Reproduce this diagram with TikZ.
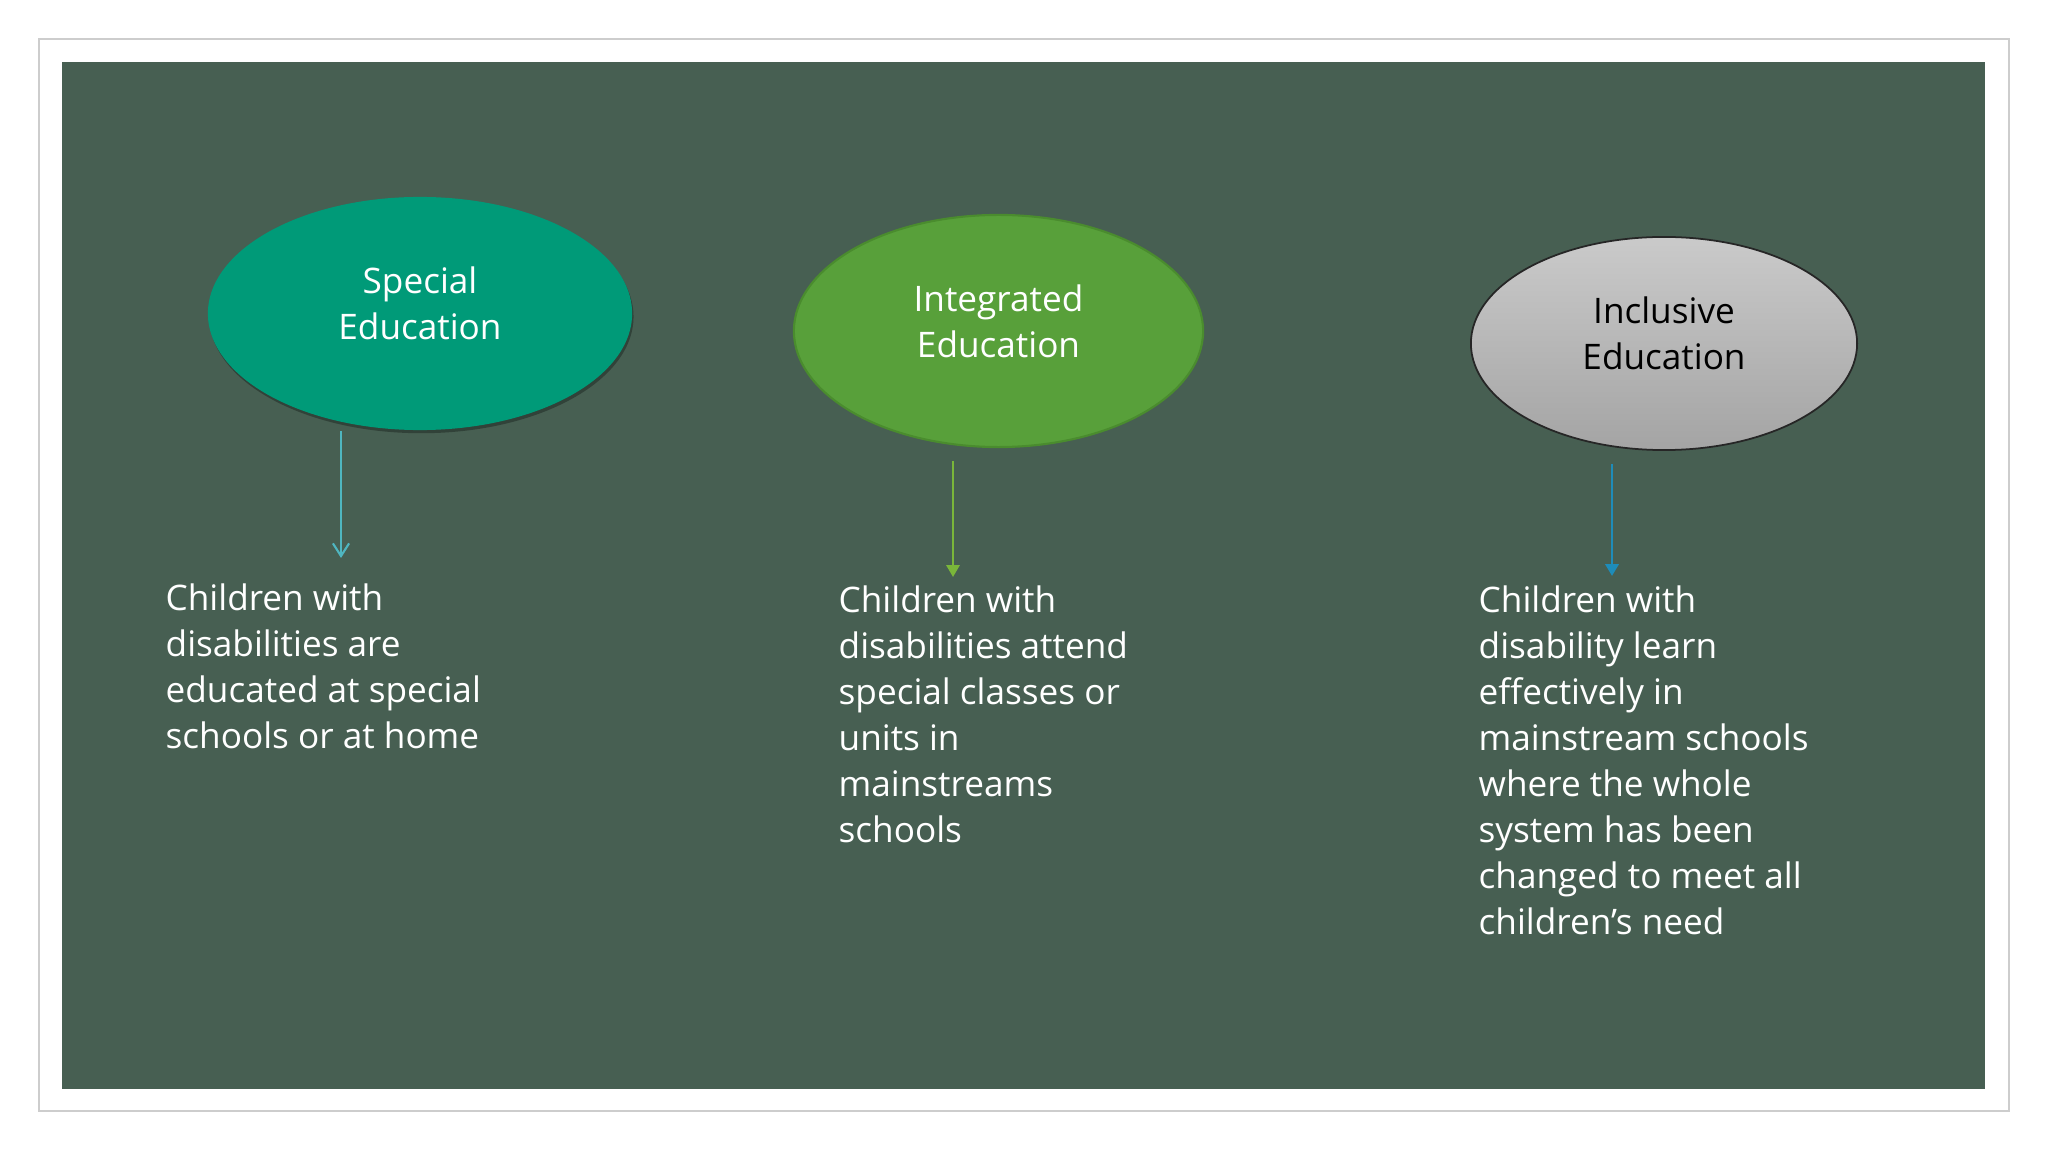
\documentclass[tikz,border=0pt]{standalone}
\usepackage{fontspec}
\setmainfont{Open Sans}
\usepackage{tikz}
\usetikzlibrary{arrows.meta}
\usetikzlibrary{shapes}
\usetikzlibrary{shadows}

\definecolor{board}{RGB}{71,95,82}
\definecolor{framegray}{RGB}{205,205,205}
\definecolor{specialgreen}{RGB}{0,154,120}
\definecolor{integratedgreen}{RGB}{88,160,58}
\definecolor{integratededge}{RGB}{74,140,46}
\definecolor{inclusivetop}{RGB}{202,202,202}
\definecolor{inclusivebottom}{RGB}{164,164,164}
\definecolor{tealarrow}{RGB}{79,182,192}
\definecolor{greenarrow}{RGB}{122,182,58}
\definecolor{bluearrow}{RGB}{30,140,185}

\begin{document}
\begin{tikzpicture}[x=0.01cm, y=-0.01cm,
        oval_style/.style={ellipse, inner sep=0pt},
        special_style/.style={oval_style, fill=specialgreen, minimum width=4.24cm, minimum height=2.33cm,
            drop shadow={shadow xshift=0.4pt, shadow yshift=-0.9pt, fill=black, opacity=0.3}},
        integrated_style/.style={oval_style, fill=integratedgreen, draw=integratededge, line width=0.6pt,
            minimum width=4.09cm, minimum height=2.32cm},
        inclusive_style/.style={oval_style, top color=inclusivetop, bottom color=inclusivebottom, draw=black!85,
            line width=0.5pt, minimum width=3.86cm, minimum height=2.13cm},
        title_style/.style={align=center, inner sep=0pt, font=\fontsize{10}{13.1}\selectfont, yshift=0.1cm},
        text_style/.style={align=left, anchor=north west, inner sep=0pt, text=white,
            font=\fontsize{10}{13.1}\selectfont},
        teal_edge/.style={draw=tealarrow, line width=0.6pt, -{Straight Barb[length=3.6pt, width=4.6pt]}},
        green_edge/.style={draw=greenarrow, line width=0.6pt, -{Triangle[length=3.4pt, width=3.8pt]}},
        blue_edge/.style={draw=bluearrow, line width=0.75pt, -{Triangle[length=3.4pt, width=3.8pt]}}]

        \useasboundingbox (0,0) rectangle (2048,1152);
        \fill[white] (0,0) rectangle (2048,1152);
        \draw[framegray, line width=0.45pt] (39,39) rectangle (2009,1111);
        \fill[board] (62,62) rectangle (1985,1089);

        \node [special_style, label={[title_style, text=white]center:Special\\Education}] (special) at (420,313.5) {};

        \node [integrated_style, label={[title_style, text=white]center:Integrated\\Education}] (integrated) at (998.5,331) {};

        \node [inclusive_style, label={[title_style, text=black]center:Inclusive\\Education}] (inclusive) at (1664,343.5) {};

        \node [text_style] (special_text) at (165,583) {Children with\\disabilities are\\educated at special\\schools or at home};

        \node [text_style] (integrated_text) at (838,585) {Children with\\disabilities attend\\special classes or\\units in\\mainstreams\\schools};

        \node [text_style] (inclusive_text) at (1478,585) {Children with\\disability learn\\effectively in\\mainstream schools\\where the whole\\system has been\\changed to meet all\\children’s need};

        \coordinate (special_from) at (341,431);
        \coordinate (special_to) at (341,558);
        \coordinate (integrated_from) at (953,461);
        \coordinate (integrated_to) at (953,577);
        \coordinate (inclusive_from) at (1612,464);
        \coordinate (inclusive_to) at (1612,576);

        \draw [teal_edge] (special_from) -- (special_to);

        \draw [green_edge] (integrated_from) -- (integrated_to);

        \draw [blue_edge] (inclusive_from) -- (inclusive_to);

        \end{tikzpicture}
\end{document}
